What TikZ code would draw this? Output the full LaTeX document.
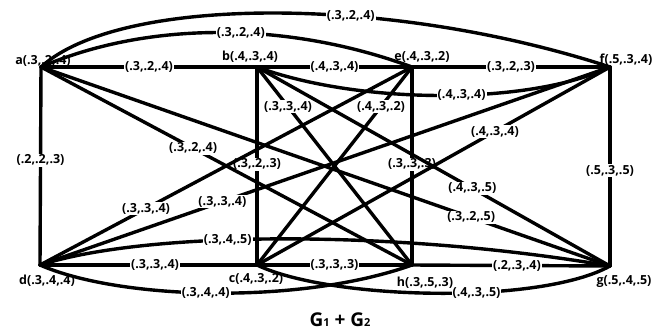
\documentclass[tikz,border=0pt]{standalone}
\usepackage{fontspec}
\setmainfont{Open Sans}
\begin{document}
\begin{tikzpicture}[x=1pt,y=-1pt,
  vtx/.style={coordinate},
  lnk/.style={line width=3.4pt, line cap=round, line join=round},
  elab/.style={fill=white, inner sep=1pt, font=\fontsize{12.5}{13}\selectfont\bfseries},
  vlab/.style={inner sep=0pt, anchor=base, font=\fontsize{12.5}{13}\selectfont\bfseries}]
\useasboundingbox (0,0) rectangle (668,330);
% vertices
\node[vtx] (a) at (41,67) {};
\node[vtx] (b) at (257,67) {};
\node[vtx] (e) at (412,67) {};
\node[vtx] (f) at (610,67) {};
\node[vtx] (d) at (40,265) {};
\node[vtx] (c) at (257,265) {};
\node[vtx] (h) at (412,265) {};
\node[vtx] (g) at (610,266) {};
% G1 and G2 edges
\draw[lnk] (a) -- node[elab,pos=.5]{(.3,.2,.4)} (b);
\draw[lnk] (a) -- node[elab,pos=.47]{(.2,.2,.3)} (d);
\draw[lnk] (d) -- node[elab,pos=.53]{(.3,.3,.4)} (c);
\draw[lnk] (b) -- node[elab,pos=.49]{(.3,.2,.3)} (c);
\draw[lnk] (e) -- node[elab,pos=.5]{(.3,.2,.3)} (f);
\draw[lnk] (f) -- node[elab,pos=.52]{(.5,.3,.5)} (g);
\draw[lnk] (h) -- node[elab,pos=.53]{(.2,.3,.4)} (g);
\draw[lnk] (e) -- node[elab,pos=.49]{(.3,.3,.3)} (h);
% join edges
\draw[lnk] (a) .. controls (120,-5) and (390,-5) .. node[elab,pos=.62]{(.3,.2,.4)} (f);
\draw[lnk] (a) .. controls (150,20) and (290,22) .. node[elab,pos=.55]{(.3,.2,.4)} (e);
\draw[lnk] (b) -- node[elab,pos=.5]{(.4,.3,.4)} (e);
\draw[lnk] (b) .. controls (360,105) and (530,105) .. node[elab,pos=.55]{(.4,.3,.4)} (f);
\draw[lnk] (b) -- node[elab,pos=.2]{(.3,.3,.4)} (h);
\draw[lnk] (e) -- node[elab,pos=.2]{(.4,.3,.2)} (c);
\draw[lnk] (a) -- node[elab,pos=.41]{(.3,.2,.4)} (h);
\draw[lnk] (f) -- node[elab,pos=.326]{(.4,.3,.4)} (c);
\draw[lnk] (b) -- node[elab,pos=.61]{(.4,.3,.5)} (g);
\draw[lnk] (a) -- node[elab,pos=.756]{(.3,.2,.5)} (g);
\draw[lnk] (d) -- node[elab,pos=.285]{(.3,.3,.4)} (e);
\draw[lnk] (d) -- node[elab,pos=.32]{(.3,.3,.4)} (f);
\draw[lnk] (d) .. controls (150,230) and (400,230) .. node[elab,pos=.4]{(.3,.4,.5)} (g);
\draw[lnk] (c) -- node[elab,pos=.5]{(.3,.3,.3)} (h);
\draw[lnk] (d) .. controls (120,300) and (300,305) .. node[elab,pos=.48]{(.3,.4,.4)} (h);
\draw[lnk] (c) .. controls (330,300) and (540,305) .. node[elab,pos=.6]{(.4,.3,.5)} (g);
% vertex labels
\node[vlab] (la) at (43,64) {a(.3,.2,.4)};
\node[vlab] (lb) at (250,60) {b(.4,.3,.4)};
\node[vlab] (le) at (422,60) {e(.4,.3,.2)};
\node[vlab] (lf) at (626,63) {f(.5,.3,.4)};
\node[vlab] (ld) at (47,284) {d(.3,.4,.4)};
\node[vlab] (lc) at (256,282) {c(.4,.3,.2)};
\node[vlab] (lh) at (425,286) {h(.3,.5,.3)};
\node[vlab] (lg) at (624,284) {g(.5,.4,.5)};
% title
\node[anchor=base, inner sep=0pt, font=\fontsize{19}{20}\selectfont\bfseries] (title) at (340,326)
  {G{\fontsize{11}{11}\selectfont 1} + G{\fontsize{11}{11}\selectfont 2}};
\end{tikzpicture}
\end{document}
